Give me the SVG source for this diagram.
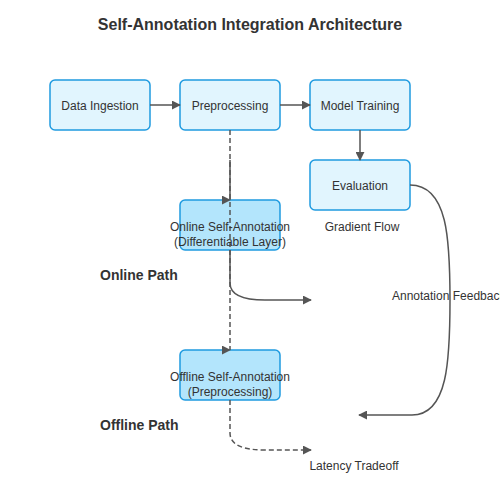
<svg xmlns="http://www.w3.org/2000/svg" width="500" height="500" viewBox="0 0 500 500">
<defs>
<style>
.box{fill:#e1f5fe;stroke:#1f9be0;stroke-width:1.5}
.sa{fill:#b3e5fc;stroke:#1f9be0;stroke-width:1.5}
.t{font-family:"Liberation Sans",Arial,sans-serif;font-size:12px;fill:#333;text-anchor:middle}
.lbl{font-family:"Liberation Sans",Arial,sans-serif;font-size:12px;fill:#333}
.h{font-family:"Liberation Sans",Arial,sans-serif;font-size:14px;font-weight:bold;fill:#333}
.e{fill:none;stroke:#555;stroke-width:1.5;marker-end:url(#arr)}
.r{marker-end:url(#arrR)}
.d{stroke-dasharray:5,3}
</style>
<marker id="arr" viewBox="0 0 10 10" refX="9" refY="5" markerWidth="6" markerHeight="6" orient="auto" markerUnits="strokeWidth">
<path d="M0,0 L10,5 L0,10 z" fill="#555"/>
</marker>
<marker id="arrR" viewBox="0 0 10 10" refX="9" refY="5" markerWidth="6" markerHeight="6" orient="0" markerUnits="strokeWidth">
<path d="M0,0 L10,5 L0,10 z" fill="#555"/>
</marker>
</defs>
<rect width="500" height="500" fill="#fff"/>
<text x="250" y="30" font-family="'Liberation Sans',Arial,sans-serif" font-size="16" font-weight="bold" fill="#333" text-anchor="middle">Self-Annotation Integration Architecture</text>

<g id="n-ingest"><rect class="box" x="50" y="80" width="100" height="50" rx="5"/><text class="t" x="100" y="110">Data Ingestion</text></g>
<g id="n-pre"><rect class="box" x="180" y="80" width="100" height="50" rx="5"/><text class="t" x="230" y="110">Preprocessing</text></g>
<g id="n-train"><rect class="box" x="310" y="80" width="100" height="50" rx="5"/><text class="t" x="360" y="110">Model Training</text></g>
<g id="n-eval"><rect class="box" x="310" y="160" width="100" height="50" rx="5"/><text class="t" x="360" y="190">Evaluation</text></g>
<g id="n-online"><rect class="sa" x="180" y="200" width="100" height="50" rx="5"/></g>
<g id="n-offline"><rect class="sa" x="180" y="350" width="100" height="50" rx="5"/></g>

<g id="connectors">
<path class="e" d="M150,105 L180,105"/>
<path class="e" d="M280,105 L310,105"/>
<path class="e" d="M360,130 L360,160"/>
<path class="e d r" d="M230,130 L230,350"/>
<path class="e r" d="M230,160 L230,200"/>
<path class="e" d="M230,250 L230,283 C230,296 245,300 265,300 L311,300"/>
<path class="e d" d="M230,400 L230,433 C230,446 245,450 265,450 L311,450"/>
<path class="e" d="M410,185 C448,185 450,240 450,300 C450,360 448,415 412,415 L359,415"/>
</g>

<g id="labels">
<text class="t" x="230" y="231">Online Self-Annotation</text>
<text class="t" x="230" y="246">(Differentiable Layer)</text>
<text class="t" x="230" y="381">Offline Self-Annotation</text>
<text class="t" x="230" y="396">(Preprocessing)</text>
<text class="t" x="362" y="231">Gradient Flow</text>
<text class="lbl" x="392" y="300">Annotation Feedback</text>
<text class="t" x="354" y="470">Latency Tradeoff</text>
<text class="h" x="100" y="280">Online Path</text>
<text class="h" x="100" y="430">Offline Path</text>
</g>
</svg>
